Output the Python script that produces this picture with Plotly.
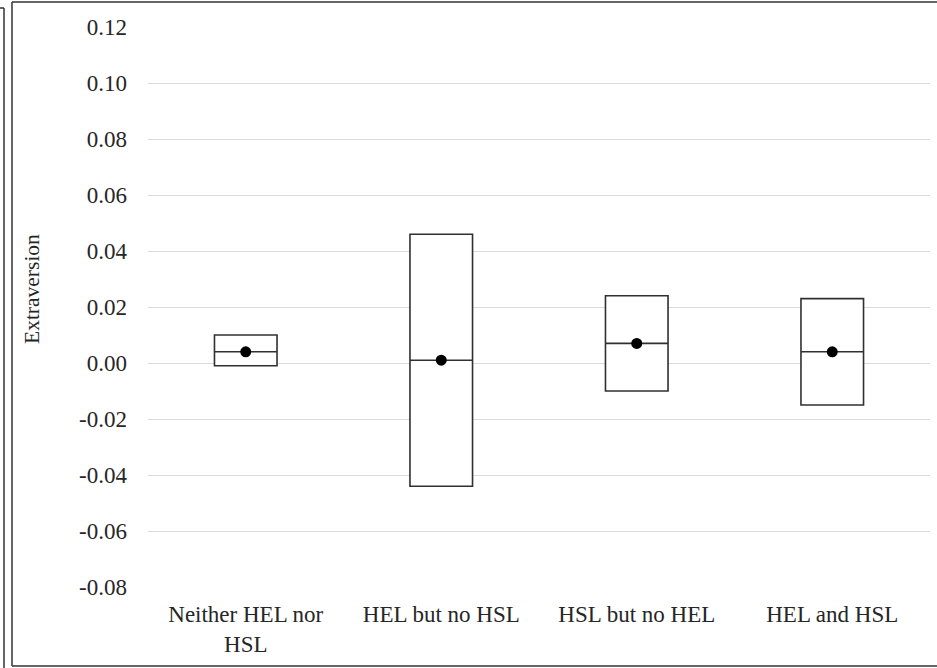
import plotly.graph_objects as go

# Extraversion by group: box spans (lower, upper), median line and mean dot
categories = ["Neither HEL nor<br>HSL", "HEL but no HSL", "HSL but no HEL", "HEL and HSL"]
lower = [-0.001, -0.044, -0.010, -0.015]
upper = [0.010, 0.046, 0.024, 0.023]
median = [0.004, 0.001, 0.007, 0.004]
mean = [0.004, 0.001, 0.007, 0.004]
y_ticks = [-0.08, -0.06, -0.04, -0.02, 0.00, 0.02, 0.04, 0.06, 0.08, 0.10, 0.12]

W, H = 937, 668
M_L, M_R, M_T, M_B = 148, 7, 27, 81
FONT = "Liberation Serif"
INK = "#262626"

fig = go.Figure()

fig.add_trace(go.Box(
    x=categories,
    q1=lower, median=median, q3=upper,
    lowerfence=lower, upperfence=upper,
    width=0.32,
    fillcolor="white",
    line=dict(color="#303030", width=1.6),
    whiskerwidth=0,
    boxpoints=False,
    hoverinfo="skip",
    showlegend=False,
))

fig.add_trace(go.Scatter(
    x=categories, y=mean, mode="markers",
    marker=dict(color="black", size=11),
    showlegend=False, hoverinfo="skip",
))

# page-pixel helpers for the outer frame
pw = W - M_L - M_R
ph = H - M_T - M_B
def px(x):
    return (x - M_L) / pw
def py(y):
    return (H - M_B - y) / ph

frame = dict(color="#333333", width=1.5)
shapes = [
    dict(type="line", xref="paper", yref="paper", x0=px(12), x1=px(940), y0=py(2), y1=py(2), line=frame),
    dict(type="line", xref="paper", yref="paper", x0=px(12), x1=px(940), y0=py(666), y1=py(666), line=frame),
    dict(type="line", xref="paper", yref="paper", x0=px(12), x1=px(12), y0=py(2), y1=py(666), line=frame),
    dict(type="line", xref="paper", yref="paper", x0=px(4), x1=px(4), y0=py(8), y1=py(670), line=frame),
    dict(type="line", xref="paper", yref="paper", x0=px(-2), x1=px(4), y0=py(8), y1=py(8), line=frame),
]

fig.update_layout(
    width=W, height=H,
    margin=dict(l=M_L, r=M_R, t=M_T, b=M_B, pad=0),
    paper_bgcolor="white", plot_bgcolor="white",
    font=dict(family=FONT, size=22, color=INK),
    shapes=shapes,
    annotations=[dict(
        text="Extraversion", textangle=-90, showarrow=False,
        xref="paper", yref="paper", x=px(32), y=py(289),
        xanchor="center", yanchor="middle",
        font=dict(family=FONT, size=21.5, color=INK),
    )],
)

fig.update_xaxes(
    type="category", range=[-0.5, 3.5],
    showgrid=False, showline=False, zeroline=False,
    ticks="", ticklabelstandoff=11,
    tickfont=dict(family=FONT, size=23, color=INK),
    fixedrange=True,
)
fig.update_yaxes(
    range=[-0.08, 0.12], tickvals=y_ticks,
    ticktext=[f"{v:.2f}" for v in y_ticks],
    showgrid=True, gridcolor="#d9d9d9", gridwidth=1,
    zeroline=False, showline=False, ticks="",
    ticklabelstandoff=20,
    tickfont=dict(family=FONT, size=23, color=INK),
    fixedrange=True,
)

fig.write_html("out.html")
